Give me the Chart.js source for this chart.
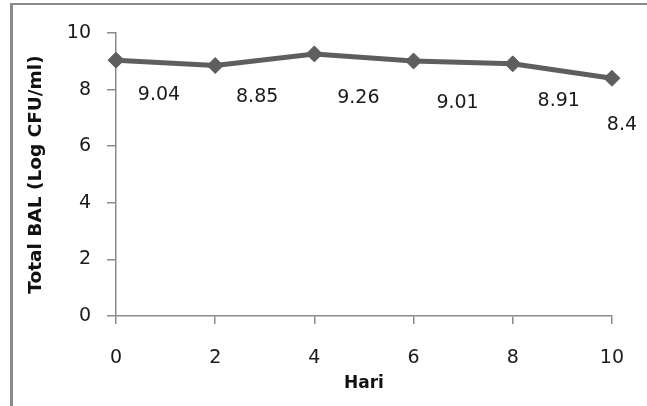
<!DOCTYPE html>
<html>
<head>
<meta charset="utf-8">
<script src="https://cdn.jsdelivr.net/npm/chart.js@4.4.1/dist/chart.umd.min.js"></script>
<style>
    html, body { margin: 0; padding: 0; background: #fff; }
    #wrap { position: relative; width: 647px; height: 406px; overflow: hidden; }
    #frame {
        position: absolute; left: 10px; top: 3px; right: -10px; bottom: -10px;
        border-left: 3px solid #8a8a8a; border-top: 2px solid #8a8a8a;
        pointer-events: none;
    }
    canvas { position: absolute; left: 0; top: 0; }
</style>
</head>
<body>
<div id="wrap">
    <canvas id="chart" width="647" height="406"></canvas>
    <div id="frame"></div>
</div>
<script>
// Data
const days = [0, 2, 4, 6, 8, 10];
const totalBal = [9.04, 8.85, 9.26, 9.01, 8.91, 8.4];
const xTicks = [0, 2, 4, 6, 8, 10];
const yTicks = [0, 2, 4, 6, 8, 10];

// Label offsets (px) from each point, as placed in the original
const labelOffsets = [[43, 35], [42, 32], [44, 44], [44, 42], [46, 37], [10, 47]];

const lineColor = '#5e5e5e';
const axisColor = '#8a8a8a';
const tickFont = { family: 'DejaVu Sans', size: 19 };

const pointLabels = {
    id: 'pointLabels',
    afterDatasetsDraw(chart) {
        const ctx = chart.ctx;
        const meta = chart.getDatasetMeta(0);
        ctx.save();
        ctx.font = '19px "DejaVu Sans"';
        ctx.fillStyle = '#1a1a1a';
        ctx.textAlign = 'center';
        ctx.textBaseline = 'middle';
        meta.data.forEach((pt, i) => {
            const [dx, dy] = labelOffsets[i];
            ctx.fillText(String(totalBal[i]), pt.x + dx, pt.y + dy);
        });
        ctx.restore();
    }
};

const ctx = document.getElementById('chart').getContext('2d');
new Chart(ctx, {
    type: 'line',
    data: {
        datasets: [{
            data: days.map((d, i) => ({ x: d, y: totalBal[i] })),
            borderColor: lineColor,
            backgroundColor: lineColor,
            borderWidth: 5,
            pointStyle: 'rectRot',
            pointRadius: 8,
            pointBorderWidth: 1,
            pointBorderColor: lineColor,
            pointBackgroundColor: lineColor,
            tension: 0,
            clip: false
        }]
    },
    options: {
        responsive: false,
        animation: false,
        layout: { padding: { left: 0, top: 33, right: 31, bottom: 0 } },
        plugins: {
            legend: { display: false },
            tooltip: { enabled: false }
        },
        scales: {
            x: {
                type: 'linear',
                min: 0,
                max: 10,
                afterBuildTicks: (scale) => { scale.ticks = xTicks.map(v => ({ value: v })); },
                afterFit: (scale) => { scale.height = 90; },
                grid: { drawOnChartArea: false, color: axisColor, tickLength: 8, lineWidth: 1.5 },
                border: { color: axisColor, width: 1.5 },
                ticks: { font: tickFont, color: '#1a1a1a', padding: 23, maxRotation: 0 },
                title: {
                    display: true,
                    text: 'Hari',
                    font: { family: 'DejaVu Sans', size: 17, weight: 'bold' },
                    color: '#111',
                    padding: { top: 0, bottom: 12 }
                }
            },
            y: {
                min: 0,
                max: 10,
                afterBuildTicks: (scale) => { scale.ticks = yTicks.map(v => ({ value: v })); },
                afterFit: (scale) => { scale.width = 116; },
                grid: { drawOnChartArea: false, color: axisColor, tickLength: 9, lineWidth: 1.5 },
                border: { color: axisColor, width: 1.5 },
                ticks: { font: tickFont, color: '#1a1a1a', padding: 16 },
                title: {
                    display: true,
                    text: 'Total BAL (Log CFU/ml)',
                    font: { family: 'DejaVu Sans', size: 18.5, weight: 'bold' },
                    color: '#111',
                    padding: { top: 25, bottom: 0 }
                }
            }
        }
    },
    plugins: [pointLabels]
});
</script>
</body>
</html>
